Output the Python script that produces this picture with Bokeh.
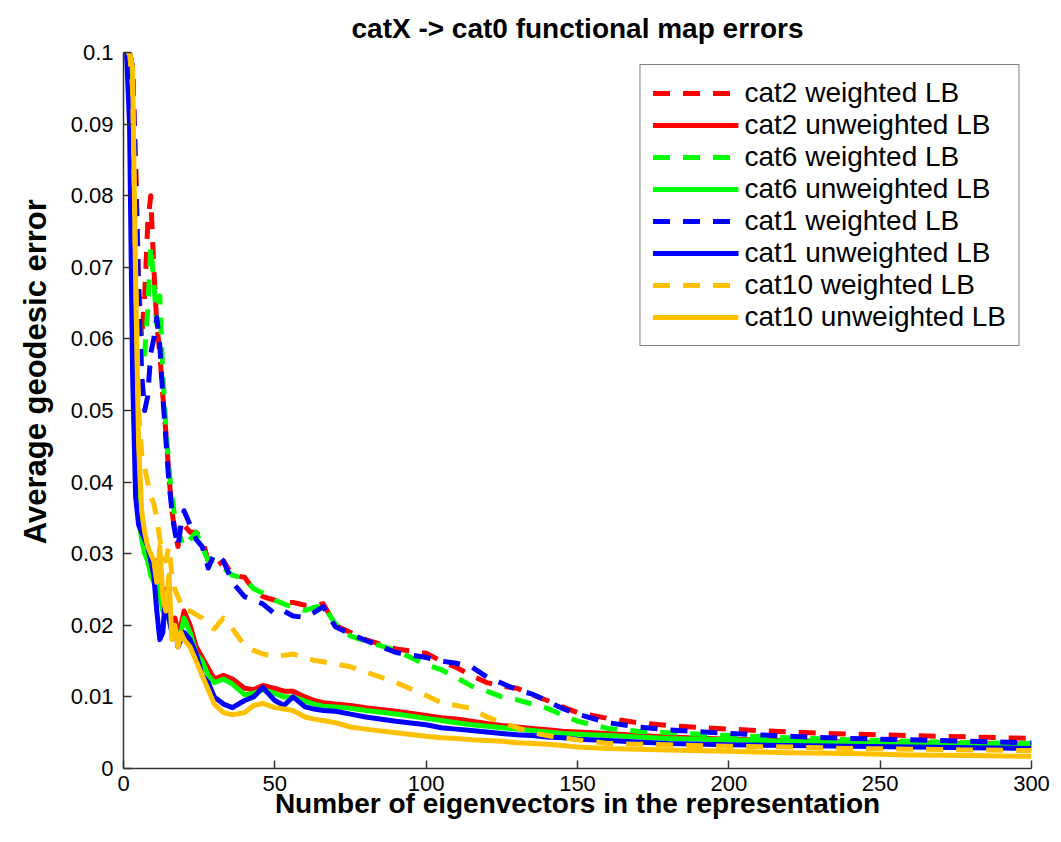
from bokeh.plotting import figure
from bokeh.models import FixedTicker, CustomJSTickFormatter, Range1d, Legend, LegendItem
from bokeh.embed import file_html
from bokeh.resources import INLINE

# ---------------- data ----------------
X = [1, 2, 3, 4, 5, 6, 7, 8, 9, 10,
     11, 12, 13, 14, 15, 16, 17, 18, 19, 20,
     22, 24, 26, 28, 30, 33, 36, 40, 43, 46,
     50, 53, 56, 60, 63, 66, 70, 75, 80, 90,
     100, 105, 110, 115, 120, 125, 130, 135, 140, 145,
     150, 160, 170, 180, 200, 220, 240, 260, 280, 300]

cat2_weighted = [0.100, 0.100, 0.098, 0.085, 0.068, 0.060, 0.066, 0.076, 0.080, 0.070,
                 0.062, 0.058, 0.052, 0.047, 0.041, 0.036, 0.033, 0.031, 0.033, 0.034,
                 0.033, 0.033, 0.032, 0.029, 0.028, 0.029, 0.027, 0.0267, 0.025, 0.024,
                 0.0235, 0.0232, 0.0232, 0.0228, 0.0228, 0.0230, 0.0200, 0.0190, 0.0180, 0.0167,
                 0.0161, 0.0150, 0.0141, 0.0130, 0.0120, 0.0115, 0.0112, 0.0103, 0.0095, 0.0086,
                 0.0078, 0.0070, 0.0064, 0.0060, 0.0055, 0.0051, 0.0048, 0.0046, 0.0044, 0.0042]

cat2_unweighted = [0.100, 0.098, 0.070, 0.045, 0.036, 0.033, 0.031, 0.030, 0.028, 0.027,
                   0.029, 0.025, 0.023, 0.025, 0.022, 0.020, 0.021, 0.019, 0.020, 0.022,
                   0.020, 0.017, 0.0155, 0.014, 0.0125, 0.0130, 0.0125, 0.0112, 0.0110, 0.0116,
                   0.0112, 0.0108, 0.0108, 0.0100, 0.0095, 0.0092, 0.0090, 0.0088, 0.0085, 0.0080,
                   0.0074, 0.0071, 0.0069, 0.0066, 0.0063, 0.0060, 0.0058, 0.0056, 0.0054, 0.0052,
                   0.0051, 0.0049, 0.0046, 0.0044, 0.0041, 0.0039, 0.0037, 0.0036, 0.0035, 0.0034]

cat6_weighted = [0.100, 0.100, 0.097, 0.080, 0.065, 0.056, 0.058, 0.064, 0.073, 0.068,
                 0.062, 0.066, 0.055, 0.048, 0.042, 0.038, 0.035, 0.033, 0.032, 0.031,
                 0.032, 0.033, 0.031, 0.029, 0.029, 0.028, 0.027, 0.0265, 0.0251, 0.0245,
                 0.0235, 0.0230, 0.0225, 0.0221, 0.0225, 0.0228, 0.0202, 0.0185, 0.0178, 0.0165,
                 0.0145, 0.0138, 0.0127, 0.0115, 0.0108, 0.0100, 0.0096, 0.0090, 0.0084, 0.0075,
                 0.0066, 0.0056, 0.0052, 0.0050, 0.0046, 0.0043, 0.0040, 0.0038, 0.0036, 0.0035]

cat6_unweighted = [0.100, 0.097, 0.068, 0.044, 0.035, 0.032, 0.030, 0.029, 0.027, 0.026,
                   0.028, 0.024, 0.022, 0.024, 0.021, 0.019, 0.020, 0.018, 0.019, 0.021,
                   0.019, 0.016, 0.015, 0.013, 0.012, 0.0125, 0.0118, 0.0103, 0.0105, 0.0110,
                   0.0105, 0.0100, 0.0100, 0.0094, 0.0090, 0.0087, 0.0086, 0.0084, 0.0081, 0.0076,
                   0.0070, 0.0067, 0.0064, 0.0061, 0.0059, 0.0057, 0.0055, 0.0053, 0.0051, 0.0049,
                   0.0048, 0.0046, 0.0044, 0.0042, 0.0040, 0.0038, 0.0036, 0.0035, 0.0034, 0.0033]

cat1_weighted = [0.100, 0.100, 0.098, 0.082, 0.066, 0.055, 0.050, 0.052, 0.058, 0.060,
                 0.063, 0.059, 0.052, 0.046, 0.040, 0.036, 0.033, 0.031, 0.034, 0.036,
                 0.034, 0.032, 0.031, 0.028, 0.030, 0.029, 0.026, 0.024, 0.0235, 0.023,
                 0.0216, 0.0220, 0.0213, 0.0211, 0.0218, 0.0226, 0.0198, 0.0188, 0.0179, 0.0162,
                 0.0155, 0.0150, 0.0147, 0.0142, 0.0128, 0.0119, 0.0110, 0.0104, 0.0094, 0.0084,
                 0.0076, 0.0064, 0.0058, 0.0054, 0.0049, 0.0045, 0.0042, 0.0040, 0.0038, 0.0036]

cat1_unweighted = [0.100, 0.090, 0.055, 0.038, 0.034, 0.033, 0.032, 0.031, 0.029, 0.027,
                   0.022, 0.018, 0.019, 0.025, 0.021, 0.019, 0.020, 0.017, 0.018, 0.019,
                   0.018, 0.016, 0.013, 0.012, 0.010, 0.009, 0.0085, 0.0095, 0.0100, 0.0113,
                   0.0095, 0.0088, 0.0100, 0.0086, 0.0083, 0.0081, 0.0080, 0.0076, 0.0072, 0.0066,
                   0.0061, 0.0057, 0.0055, 0.0053, 0.0051, 0.0049, 0.0047, 0.0046, 0.0044, 0.0043,
                   0.0041, 0.0039, 0.0037, 0.0035, 0.0033, 0.0032, 0.0031, 0.0030, 0.0029, 0.0028]

cat10_weighted = [0.100, 0.100, 0.095, 0.070, 0.050, 0.044, 0.042, 0.040, 0.038, 0.037,
                  0.035, 0.032, 0.030, 0.029, 0.031, 0.027, 0.025, 0.024, 0.023, 0.022,
                  0.022, 0.0215, 0.021, 0.020, 0.0195, 0.0210, 0.0195, 0.0172, 0.0165, 0.0160,
                  0.0156, 0.0158, 0.0160, 0.0155, 0.0151, 0.0149, 0.0146, 0.0142, 0.0135, 0.0120,
                  0.0102, 0.0092, 0.0088, 0.0084, 0.0072, 0.0064, 0.0057, 0.0050, 0.0046, 0.0043,
                  0.0040, 0.0035, 0.0034, 0.0033, 0.0031, 0.0030, 0.0028, 0.0027, 0.0026, 0.0025]

cat10_unweighted = [0.100, 0.100, 0.098, 0.068, 0.045, 0.036, 0.033, 0.031, 0.030, 0.029,
                    0.026, 0.031, 0.024, 0.022, 0.027, 0.018, 0.020, 0.017, 0.019, 0.018,
                    0.017, 0.015, 0.013, 0.011, 0.009, 0.0078, 0.0075, 0.0078, 0.0088, 0.0091,
                    0.0085, 0.0083, 0.0081, 0.0072, 0.0069, 0.0067, 0.0064, 0.0058, 0.0055, 0.0050,
                    0.0045, 0.0043, 0.0042, 0.0040, 0.0039, 0.0038, 0.0036, 0.0035, 0.0034, 0.0032,
                    0.0030, 0.0028, 0.0027, 0.0026, 0.0024, 0.0022, 0.0021, 0.0019, 0.0018, 0.0017]

series = [
    ("cat2 weighted LB", cat2_weighted, "#FF0000", True),
    ("cat2 unweighted LB", cat2_unweighted, "#FF0000", False),
    ("cat6 weighted LB", cat6_weighted, "#00FF00", True),
    ("cat6 unweighted LB", cat6_unweighted, "#00FF00", False),
    ("cat1 weighted LB", cat1_weighted, "#0000FF", True),
    ("cat1 unweighted LB", cat1_unweighted, "#0000FF", False),
    ("cat10 weighted LB", cat10_weighted, "#FFC000", True),
    ("cat10 unweighted LB", cat10_unweighted, "#FFC000", False),
]

x_ticks = [0, 50, 100, 150, 200, 250, 300]
y_ticks = [0, 0.01, 0.02, 0.03, 0.04, 0.05, 0.06, 0.07, 0.08, 0.09, 0.1]

FONT = "Liberation Sans"

# ---------------- figure ----------------
p = figure(width=1053, height=834,
           x_range=Range1d(0, 300), y_range=Range1d(0, 0.1),
           output_backend="svg", toolbar_location=None,
           min_border_left=123, min_border_right=22,
           min_border_top=52, min_border_bottom=66,
           title="catX -> cat0 functional map errors")

p.title.align = "center"
p.title.text_font = FONT
p.title.text_font_size = "28px"
p.title.text_font_style = "bold"
p.title.text_color = "#000000"
p.title.standoff = 18

p.xgrid.visible = False
p.ygrid.visible = False
p.outline_line_color = None
p.background_fill_color = "white"
p.border_fill_color = "white"

items = []
for label, ys, color, dashed in series:
    r = p.line(X, ys, line_color=color, line_width=5,
               line_dash="17 13" if dashed else "solid",
               line_join="round", line_cap="butt")
    items.append(LegendItem(label=label, renderers=[r]))

for ax in (p.xaxis[0], p.yaxis[0]):
    ax.axis_line_color = "#333333"
    ax.axis_line_width = 1.5
    ax.major_tick_line_color = "#333333"
    ax.major_tick_line_width = 1.5
    ax.major_tick_in = 8
    ax.major_tick_out = 0
    ax.minor_tick_line_color = None
    ax.major_label_text_font = FONT
    ax.major_label_text_font_size = "22px"
    ax.major_label_text_color = "#000000"
    ax.axis_label_text_font = FONT
    ax.axis_label_text_font_style = "bold"
    ax.axis_label_text_color = "#000000"

p.xaxis.ticker = FixedTicker(ticks=x_ticks)
p.yaxis.ticker = FixedTicker(ticks=y_ticks)
p.yaxis.formatter = CustomJSTickFormatter(code="return Number(tick.toFixed(2)).toString();")
p.xaxis.axis_label = "Number of eigenvectors in the representation"
p.xaxis.axis_label_text_font_size = "28px"
p.xaxis.major_label_standoff = 7
p.xaxis.axis_label_standoff = -6
p.yaxis.major_label_standoff = 10
# leading no-break spaces lift the rotated label slightly above the frame centre, as in the original
p.yaxis.axis_label = "\u00a0" * 9 + "Average geodesic error"
p.yaxis.axis_label_text_font_size = "31px"
p.yaxis.axis_label_standoff = 15

legend = Legend(items=items, location="top_right")
legend.label_text_font = FONT
legend.label_text_font_size = "28px"
legend.label_text_color = "#000000"
legend.glyph_width = 86
legend.glyph_height = 30
legend.label_height = 30
legend.label_standoff = 6
legend.spacing = 0
legend.padding = 12
legend.margin = 12
legend.border_line_color = "#000000"
legend.border_line_width = 1.5
legend.background_fill_color = "white"
legend.background_fill_alpha = 1
p.add_layout(legend)

open("out.html", "w").write(file_html(p, INLINE))
